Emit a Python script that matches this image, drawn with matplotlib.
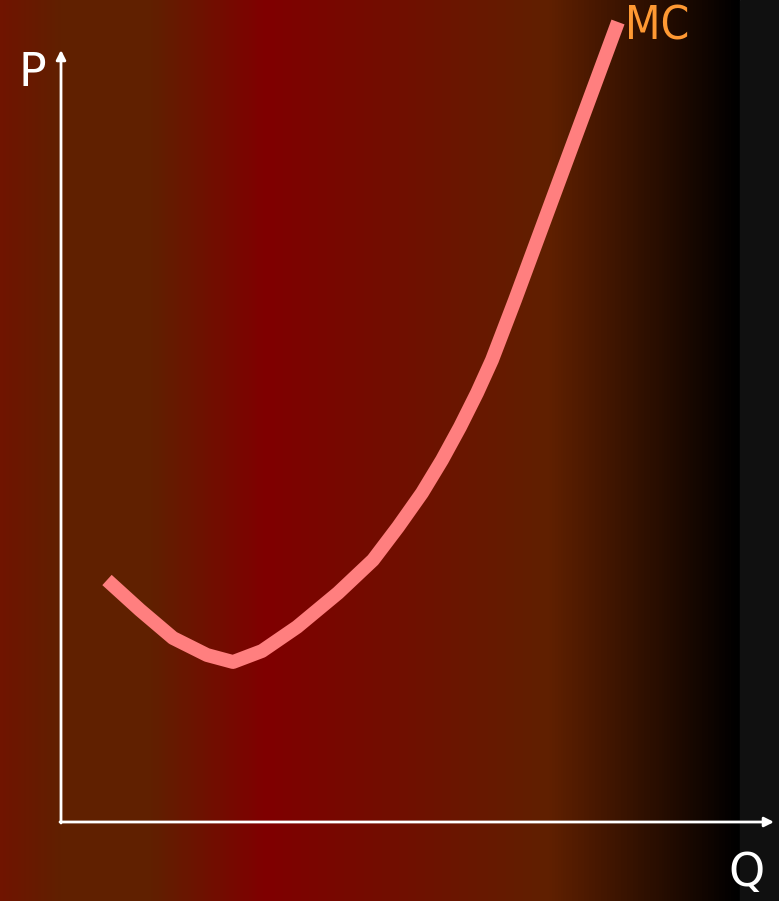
import numpy as np
import matplotlib
matplotlib.use("Agg")
import matplotlib.pyplot as plt
from matplotlib.colors import LinearSegmentedColormap

# background gradient stops (pixel x, colour)
bg_x = [0, 60, 150, 265, 550, 740]
bg_col = ["#701400", "#602000", "#602000", "#800000", "#602000", "#000000"]

# MC curve (pixel-like coordinates, y downwards)
mc_x = [107, 140, 173, 207, 233, 262, 297, 338, 373, 398, 422, 442, 460,
        477, 492, 515, 618]
mc_y = [580, 610, 638, 655, 662, 651, 627, 593, 560, 527, 493, 460, 427,
        393, 360, 300, 22]

W, H = 779, 901
fig = plt.figure(figsize=(W / 100, H / 100), dpi=100)
ax = fig.add_axes([0, 0, 1, 1])
ax.set_xlim(0, W)
ax.set_ylim(H, 0)
ax.axis("off")

# gradient background
stops = [x / bg_x[-1] for x in bg_x]
cmap = LinearSegmentedColormap.from_list("bg", list(zip(stops, bg_col)), N=256)
grad = np.linspace(0, 1, bg_x[-1]).reshape(1, -1)
ax.imshow(grad, cmap=cmap, aspect="auto", extent=[0, bg_x[-1], H, 0], zorder=0)
ax.add_patch(plt.Rectangle((bg_x[-1], 0), W - bg_x[-1], H, color="#101010", zorder=0))

# axes arrows
arrow = dict(arrowstyle="-|>", color="white", lw=2, mutation_scale=14,
             shrinkA=0, shrinkB=0)
ax.annotate("", xy=(61, 50), xytext=(61, 823), arrowprops=arrow, zorder=2)
ax.annotate("", xy=(774, 822), xytext=(60, 822), arrowprops=arrow, zorder=2)

# MC curve
ax.plot(mc_x, mc_y, color="#FF7F7F", lw=10, solid_capstyle="butt",
        solid_joinstyle="round", zorder=3)

ax.text(32, 73, "P", color="white", fontsize=33, ha="center", va="center")
ax.text(747, 874, "Q", color="white", fontsize=33, ha="center", va="center")
ax.text(657, 27, "MC", color="#FF9933", fontsize=33, ha="center", va="center",
        fontstretch="condensed")

fig.savefig("out.png", dpi=100)
